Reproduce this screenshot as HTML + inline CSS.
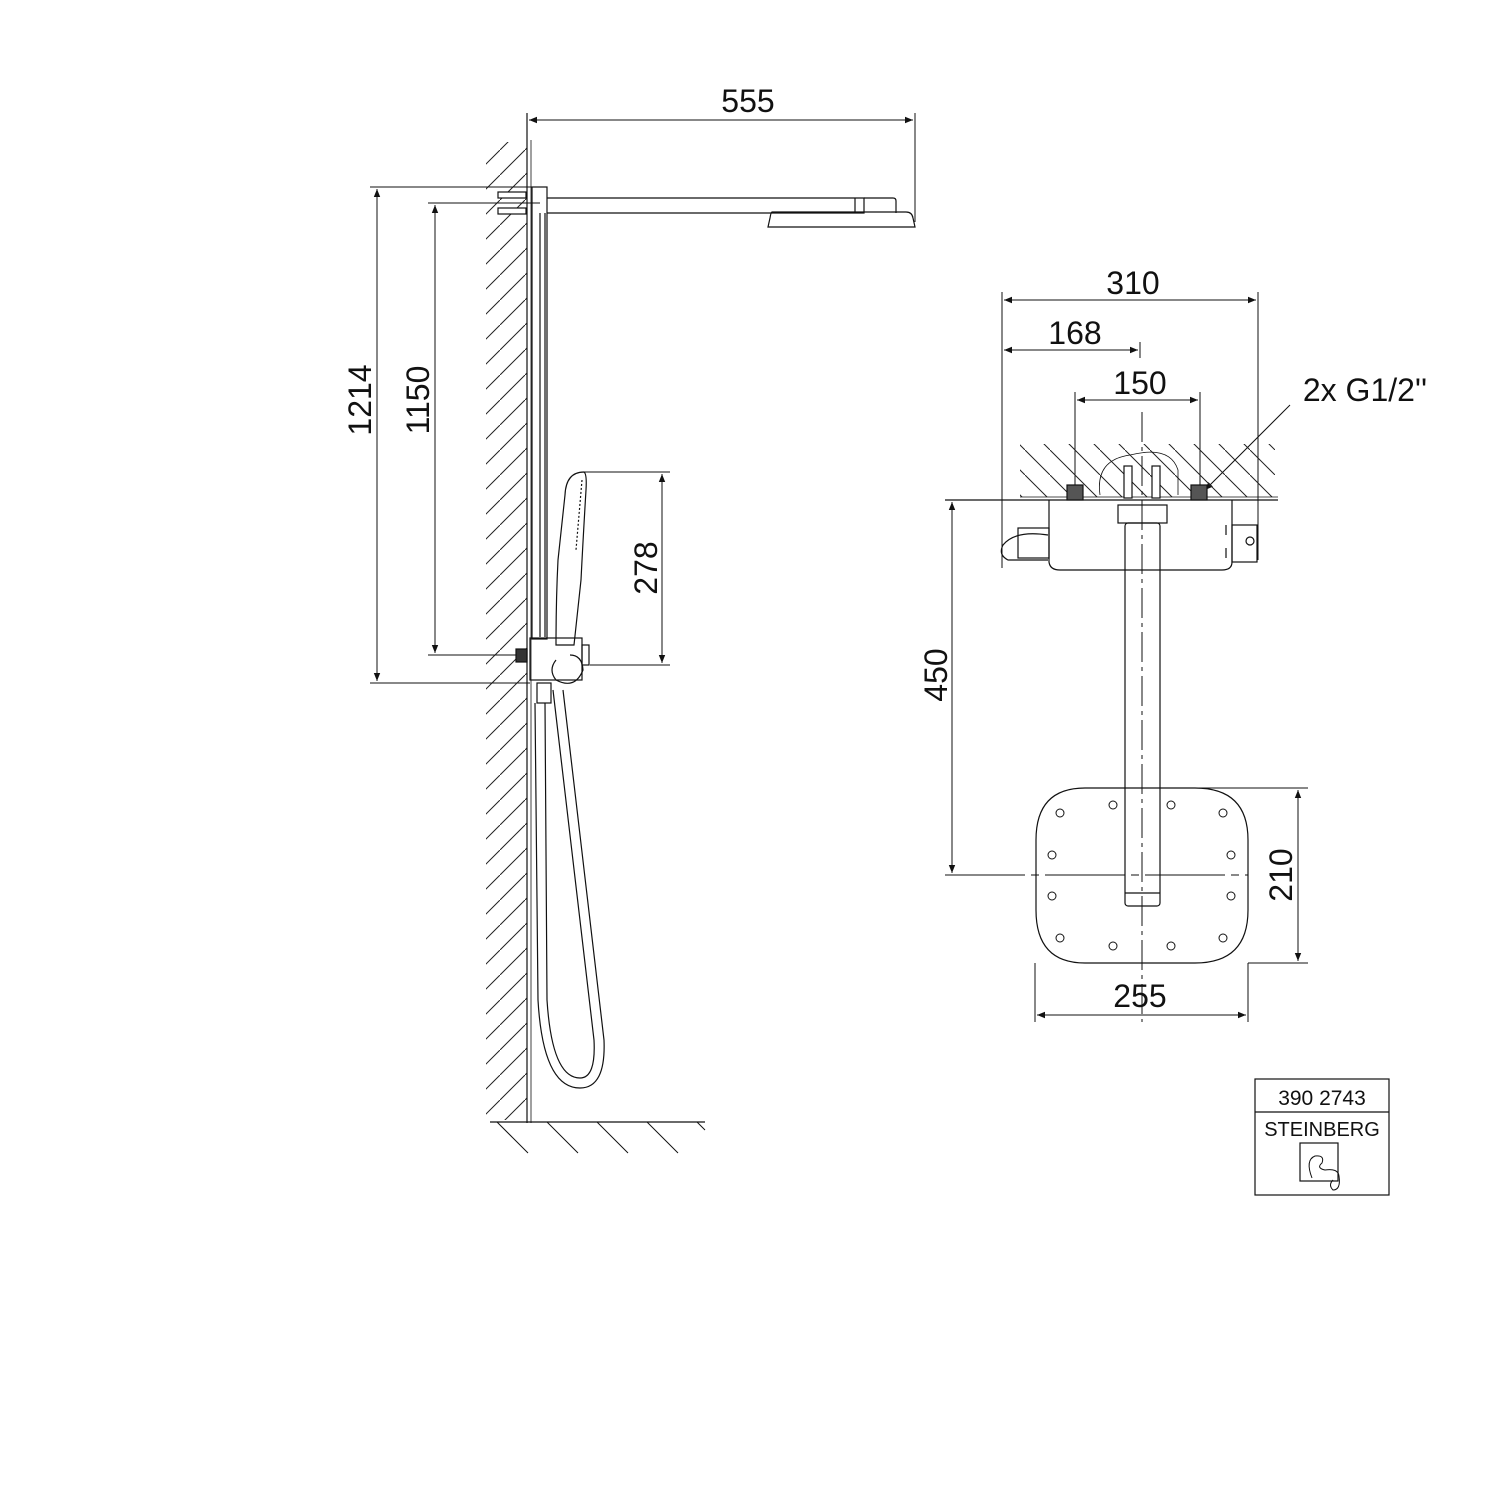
<!DOCTYPE html>
<html><head><meta charset="utf-8"><style>
html,body{margin:0;padding:0;background:#fff}
svg{display:block}
text{font-family:"Liberation Sans",sans-serif;fill:#111}
</style></head><body>
<svg width="1500" height="1500" viewBox="0 0 1500 1500" xmlns="http://www.w3.org/2000/svg">
<defs>
<pattern id="h1" patternUnits="userSpaceOnUse" width="25" height="25">
<line x1="0" y1="25" x2="25" y2="0" stroke="#222" stroke-width="1"/>
</pattern>
<pattern id="h2" patternUnits="userSpaceOnUse" width="25" height="25">
<line x1="0" y1="0" x2="25" y2="25" stroke="#222" stroke-width="1"/>
</pattern>
<marker id="ar" viewBox="0 0 10 10" refX="10" refY="5" markerWidth="14" markerHeight="8" orient="auto-start-reverse" markerUnits="userSpaceOnUse">
<path d="M0,1 L10,5 L0,9 z" fill="#111"/>
</marker>
</defs>
<g fill="none" stroke="#111" stroke-width="1.2">
<!-- LEFT VIEW -->
<rect x="486" y="142" width="41" height="978" fill="url(#h1)" stroke="none"/>
<line x1="527" y1="113" x2="527" y2="1123"/>
<line x1="531" y1="140" x2="531" y2="1123" stroke-width="0.8"/>
<line x1="490" y1="1122" x2="705" y2="1122"/>
<g stroke-width="1">
<line x1="497" y1="1122" x2="528" y2="1153"/><line x1="547" y1="1122" x2="578" y2="1153"/>
<line x1="597" y1="1122" x2="628" y2="1153"/><line x1="647" y1="1122" x2="678" y2="1153"/>
<line x1="697" y1="1122" x2="705" y2="1130"/>
</g>
<line x1="915" y1="113" x2="915" y2="222" stroke-width="1"/>
<line x1="529" y1="120" x2="913" y2="120" stroke-width="1" marker-start="url(#ar)" marker-end="url(#ar)"/>
<rect x="532" y="187" width="15" height="452"/>
<line x1="540" y1="213" x2="540" y2="637"/>
<line x1="545" y1="213" x2="545" y2="637"/>
<rect x="498" y="192" width="28" height="6" fill="#fff"/><rect x="498" y="208" width="28" height="6" fill="#fff"/>
<path d="M547,198 H864 V213 H547"/>
<path d="M864,198 H893 Q896,198 896,201 V213"/>
<line x1="855" y1="198" x2="855" y2="213"/>
<path d="M772,212 H906 Q912,212 913,218 L915,227 H768 L770,218 Q771,212 772,212 z"/>
<line x1="370" y1="187" x2="547" y2="187" stroke-width="1"/>
<line x1="370" y1="683" x2="530" y2="683" stroke-width="1"/>
<line x1="377" y1="189" x2="377" y2="681" stroke-width="1" marker-start="url(#ar)" marker-end="url(#ar)"/>
<line x1="428" y1="203" x2="540" y2="203" stroke-width="1"/>
<line x1="428" y1="655" x2="522" y2="655" stroke-width="1"/>
<line x1="435" y1="205" x2="435" y2="653" stroke-width="1" marker-start="url(#ar)" marker-end="url(#ar)"/>
<rect x="516" y="649" width="11" height="13" fill="#333"/>
<path d="M584,472 Q566,472 565,495 L558,560 Q556,600 556,645 L574,645 L581,580 Q583,540 586,490 Q587,474 584,472 z"/>
<path d="M582,480 L576,550" stroke-dasharray="2,2"/>
<line x1="584" y1="472" x2="670" y2="472" stroke-width="1"/>
<line x1="590" y1="665" x2="670" y2="665" stroke-width="1"/>
<line x1="662" y1="474" x2="662" y2="663" stroke-width="1" marker-start="url(#ar)" marker-end="url(#ar)"/>
<rect x="530" y="638" width="52" height="42"/>
<rect x="582" y="645" width="7" height="20"/>
<path d="M556,660 Q548,670 556,680 Q575,690 583,670 Q582,655 570,655"/>
<rect x="537" y="683" width="14" height="20"/>
<path d="M535,703 L538,1000 Q543,1088 580,1088 Q606,1088 604,1040 L563,690"/>
<path d="M545,703 L547,1000 Q552,1078 580,1078 Q596,1078 594,1040 L553,690"/>

<!-- RIGHT VIEW -->
<line x1="1002" y1="292" x2="1002" y2="568" stroke-width="1"/>
<line x1="1258" y1="292" x2="1258" y2="560" stroke-width="1"/>
<line x1="1004" y1="300" x2="1256" y2="300" stroke-width="1" marker-start="url(#ar)" marker-end="url(#ar)"/>
<line x1="1140" y1="342" x2="1140" y2="358" stroke-width="1"/>
<line x1="1004" y1="350" x2="1138" y2="350" stroke-width="1" marker-start="url(#ar)" marker-end="url(#ar)"/>
<line x1="1075" y1="392" x2="1075" y2="495" stroke-width="1"/>
<line x1="1200" y1="392" x2="1200" y2="495" stroke-width="1"/>
<line x1="1077" y1="400" x2="1198" y2="400" stroke-width="1" marker-start="url(#ar)" marker-end="url(#ar)"/>
<line x1="1290" y1="405" x2="1205" y2="490" stroke-width="1" marker-end="url(#ar)"/>
<rect x="1020" y="444" width="255" height="53" fill="url(#h2)" stroke="none"/>
<line x1="945" y1="500" x2="1278" y2="500"/>
<line x1="1020" y1="497" x2="1278" y2="497" stroke-width="0.8"/>
<rect x="1067" y="485" width="16" height="15" fill="#555"/>
<rect x="1191" y="485" width="16" height="15" fill="#555"/>
<path d="M1100,495 Q1095,460 1130,455 Q1170,445 1178,470 L1178,495" stroke-width="0.8"/>
<rect x="1124" y="466" width="8" height="32" fill="#fff"/><rect x="1152" y="466" width="8" height="32" fill="#fff"/>
<path d="M1049,500 V562 Q1050,570 1060,570 H1222 Q1232,570 1232,562 V500"/>
<rect x="1018" y="528" width="31" height="30"/>
<path d="M1048,535 Q1015,530 1003,545 Q998,555 1008,560 H1048"/>
<rect x="1232" y="525" width="25" height="37"/>
<circle cx="1250" cy="541" r="4"/>
<line x1="1226" y1="525" x2="1226" y2="535"/><line x1="1226" y1="548" x2="1226" y2="558"/>
<rect x="1118" y="505" width="49" height="18"/>
<rect x="1125" y="523" width="35" height="383" rx="3"/>
<line x1="1125" y1="893" x2="1160" y2="893"/>
<line x1="1142" y1="412" x2="1142" y2="1022" stroke-width="1" stroke-dasharray="30,5,4,5"/>
<line x1="952" y1="502" x2="952" y2="873" stroke-width="1" marker-start="url(#ar)" marker-end="url(#ar)"/>
<line x1="945" y1="875" x2="1248" y2="875" stroke-width="1" stroke-dasharray="80,6,8,6"/>
<path d="M1085,788 H1195 Q1248,788 1248,840 V910 Q1248,963 1195,963 H1085 Q1036,963 1036,910 V840 Q1036,788 1085,788 z"/>
<g stroke-width="1">
<circle cx="1060" cy="813" r="4"/><circle cx="1113" cy="805" r="4"/><circle cx="1171" cy="805" r="4"/><circle cx="1223" cy="813" r="4"/>
<circle cx="1052" cy="855" r="4"/><circle cx="1231" cy="855" r="4"/>
<circle cx="1052" cy="896" r="4"/><circle cx="1231" cy="896" r="4"/>
<circle cx="1060" cy="938" r="4"/><circle cx="1113" cy="946" r="4"/><circle cx="1171" cy="946" r="4"/><circle cx="1223" cy="938" r="4"/>
</g>
<line x1="1160" y1="788" x2="1308" y2="788" stroke-width="1"/>
<line x1="1248" y1="963" x2="1308" y2="963" stroke-width="1"/>
<line x1="1298" y1="790" x2="1298" y2="961" stroke-width="1" marker-start="url(#ar)" marker-end="url(#ar)"/>
<line x1="1035" y1="963" x2="1035" y2="1022" stroke-width="1"/>
<line x1="1248" y1="963" x2="1248" y2="1022" stroke-width="1"/>
<line x1="1037" y1="1015" x2="1246" y2="1015" stroke-width="1" marker-start="url(#ar)" marker-end="url(#ar)"/>
<rect x="1255" y="1079" width="134" height="116"/>
<line x1="1255" y1="1112" x2="1389" y2="1112"/>
<rect x="1300" y="1143" width="38" height="38"/>
<path d="M1312,1178 Q1305,1160 1315,1156 Q1325,1155 1322,1163 Q1316,1168 1325,1170 Q1338,1168 1339,1176 Q1341,1190 1333,1190 Q1328,1185 1333,1180" stroke-width="1"/>
</g>
<g font-size="32">
<text x="748" y="112" text-anchor="middle">555</text>
<text x="1133" y="294" text-anchor="middle">310</text>
<text x="1075" y="344" text-anchor="middle">168</text>
<text x="1140" y="394" text-anchor="middle">150</text>
<text x="1365" y="401" text-anchor="middle">2x G1/2''</text>
<text x="1140" y="1007" text-anchor="middle">255</text>
<text transform="translate(371,400) rotate(-90)" text-anchor="middle">1214</text>
<text transform="translate(429,400) rotate(-90)" text-anchor="middle">1150</text>
<text transform="translate(657,568) rotate(-90)" text-anchor="middle">278</text>
<text transform="translate(947,675) rotate(-90)" text-anchor="middle">450</text>
<text transform="translate(1292,875) rotate(-90)" text-anchor="middle">210</text>
</g>
<text x="1322" y="1105" font-size="21" text-anchor="middle">390 2743</text>
<text x="1322" y="1136" font-size="20" text-anchor="middle" fill="#555">STEINBERG</text>
</svg>
</body></html>
